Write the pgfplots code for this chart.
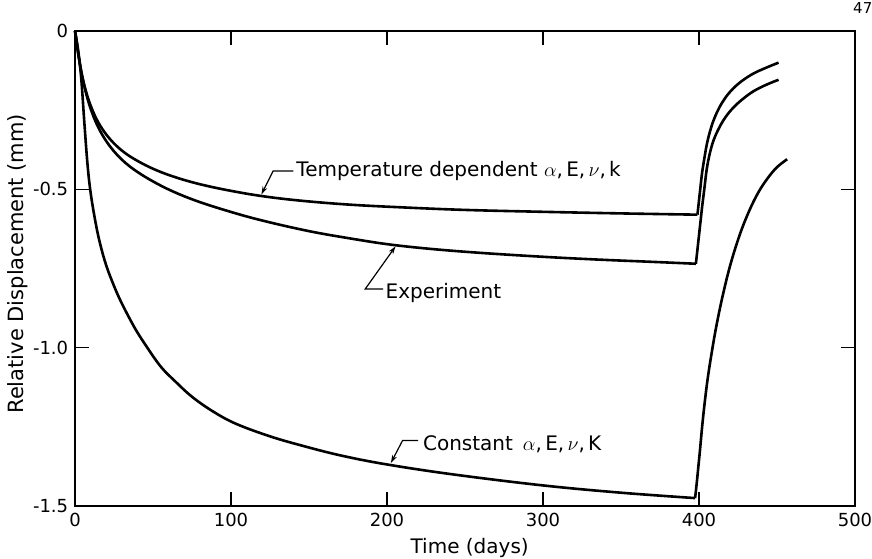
\documentclass[border=0pt]{standalone}
\usepackage{fix-cm}
\usepackage{fontspec}
\setmainfont{DejaVu Sans}
\usepackage{pgfplots}
\pgfplotsset{compat=1.18}
\usetikzlibrary{arrows.meta}
\begin{document}
\fontsize{20}{24}\selectfont
\begin{tikzpicture}
\useasboundingbox (0,0) rectangle (872pt,558pt);
\node[anchor=north west, inner sep=0pt, font=\fontsize{15}{18}\selectfont] at (853pt,556pt) {47};
\begin{axis}[
  at={(75pt,52pt)}, anchor=south west,
  width=780pt, height=475pt, scale only axis,
  xmin=0, xmax=500, ymin=-1.5, ymax=0,
  xtick={0,100,200,300,400,500},
  ytick={-1.5,-1,-0.5,0},
  yticklabels={-1.5,-1.0,-0.5,0},
  minor tick num=0,
  tick align=inside,
  major tick length=14pt,
  every tick/.style={black, line width=1.5pt},
  axis line style={black, line width=1.5pt},
  ticklabel style={font=\fontsize{18}{22}\selectfont},
  /pgf/number format/assume math mode=true,
  xlabel={Time (days)},
  ylabel={Relative Displacement (mm)},
  xlabel style={font=\fontsize{20}{24}\selectfont, at={(axis description cs:0.506,-0.088)}, anchor=center},
  ylabel style={font=\fontsize{21}{25}\selectfont, at={(axis description cs:-0.074,0.51)}, anchor=center},
  clip=false,
]
% Temperature dependent - decline
\addplot[black, line width=2.6pt, smooth, tension=0.6] coordinates {
(0,0) (1,-0.035) (2.5,-0.085) (4.5,-0.14) (7,-0.19) (10,-0.235) (14,-0.28) (19,-0.32) (25,-0.355) (32,-0.385) (40,-0.41) (50,-0.435) (62,-0.458) (77,-0.48) (95,-0.50) (118,-0.52) (143,-0.535) (175,-0.548) (210,-0.557) (250,-0.565) (300,-0.571) (350,-0.576) (399,-0.58)
};
% Temperature dependent - rise
\addplot[black, line width=2.6pt, smooth, tension=0.6] coordinates {
(399,-0.58) (400,-0.535) (401,-0.49) (402,-0.447) (403.5,-0.4) (405,-0.358) (407,-0.318) (409.5,-0.28) (413,-0.242) (417,-0.21) (422,-0.181) (428,-0.156) (435,-0.134) (443,-0.116) (451,-0.10)
};
% Experiment - decline
\addplot[black, line width=2.6pt, smooth, tension=0.6] coordinates {
(0,0) (1,-0.035) (2.5,-0.085) (4.5,-0.14) (7,-0.195) (10,-0.245) (14,-0.295) (19,-0.34) (25,-0.38) (32,-0.415) (40,-0.445) (50,-0.475) (62,-0.505) (77,-0.535) (95,-0.564) (118,-0.596) (150,-0.632) (180,-0.658) (203,-0.675) (230,-0.689) (261,-0.701) (300,-0.713) (336,-0.722) (370,-0.729) (398,-0.735)
};
% Experiment - rise
\addplot[black, line width=2.6pt, smooth, tension=0.6] coordinates {
(398,-0.735) (399,-0.69) (400,-0.645) (401,-0.60) (402,-0.555) (403.5,-0.495) (405,-0.435) (407,-0.385) (409.5,-0.343) (413,-0.305) (417,-0.272) (422,-0.242) (428,-0.215) (435,-0.19) (443,-0.17) (451,-0.154)
};
% Constant - decline
\addplot[black, line width=2.6pt, smooth, tension=0.6] coordinates {
(0,0) (2,-0.06) (4,-0.15) (6,-0.29) (8,-0.42) (10,-0.51) (13,-0.60) (16,-0.67) (20,-0.74) (25,-0.805) (30,-0.86) (38,-0.935) (45,-0.99) (55,-1.06) (65,-1.11) (75,-1.155) (88,-1.20) (103,-1.24) (125,-1.28) (146,-1.31) (170,-1.34) (199,-1.368) (242,-1.40) (300,-1.435) (350,-1.458) (397.5,-1.475)
};
% Constant - rise
\addplot[black, line width=2.6pt, smooth, tension=0.6] coordinates {
(397.5,-1.475) (398.5,-1.43) (399.5,-1.38) (400.5,-1.33) (402,-1.25) (403.5,-1.18) (405.5,-1.10) (408,-1.02) (411,-0.935) (415,-0.84) (420,-0.74) (426,-0.645) (432,-0.57) (438,-0.51) (444,-0.465) (450,-0.43) (456.5,-0.405)
};
% annotations
\draw[black, line width=1.2pt, -{Stealth[length=8pt,width=5pt]}] (axis cs:140,-0.442) -- (axis cs:127,-0.442) -- (axis cs:119.5,-0.516);
\node[anchor=base west, inner sep=0pt, font=\fontsize{20}{24}\selectfont] at (axis cs:141.8,-0.46) {Temperature dependent $\alpha$,\,E,\,$\nu$,\,k};
\draw[black, line width=1.2pt, -{Stealth[length=8pt,width=5pt]}] (axis cs:197.5,-0.815) -- (axis cs:186,-0.815) -- (axis cs:205.5,-0.680);
\node[anchor=base west, inner sep=0pt, font=\fontsize{20}{24}\selectfont] at (axis cs:199,-0.844) {Experiment};
\draw[black, line width=1.2pt, -{Stealth[length=8pt,width=5pt]}] (axis cs:220,-1.293) -- (axis cs:210,-1.293) -- (axis cs:202.5,-1.364);
\node[anchor=base west, inner sep=0pt, font=\fontsize{20}{24}\selectfont] at (axis cs:223,-1.324) {Constant\enspace$\alpha$,\,E,\,$\nu$,\,K};
\end{axis}
\end{tikzpicture}
\end{document}
